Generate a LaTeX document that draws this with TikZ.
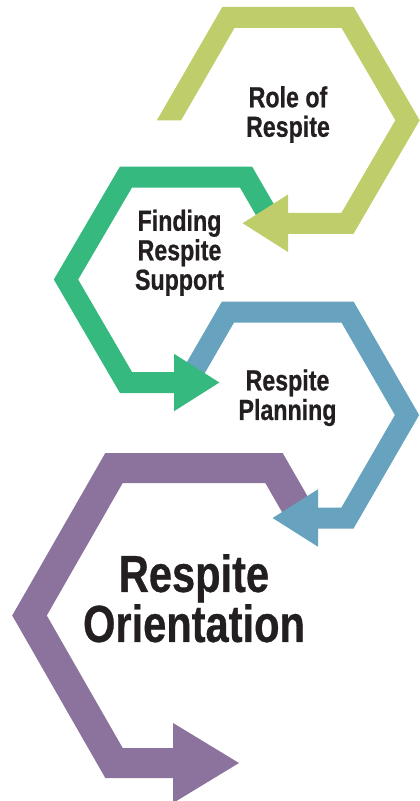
\documentclass[tikz,border=0pt]{standalone}
\usepackage{fontspec}
\setmainfont{Liberation Sans}[FakeStretch=0.8, FakeBold=0.6]
\usetikzlibrary{arrows.meta}
\definecolor{rolecol}{RGB}{191,205,106}
\definecolor{findcol}{RGB}{54,185,127}
\definecolor{plancol}{RGB}{103,163,190}
\definecolor{oriencol}{RGB}{140,115,157}
\definecolor{inkcol}{RGB}{35,31,32}
\begin{document}
\begin{tikzpicture}[
      x=1pt, y=-1pt,
      band/.style={line width=21pt, line join=miter},
      wideband/.style={line width=30pt, line join=miter},
      smallhead/.style={-{Triangle[length=46pt,width=54pt]}},
      bighead/.style={-{Triangle[length=67pt,width=75pt]}},
      steplabel/.style={align=center, text=inkcol, font=\bfseries\fontsize{29}{29.5}\selectfont},
      biglabel/.style={align=center, text=inkcol, font=\bfseries\fontsize{52}{50}\selectfont}
    ]
    \useasboundingbox (0,0) rectangle (420,801);
    % Draw the hexagon bands, lowest first.
    \draw[wideband, oriencol, bighead] (301,515) -- (274,468) -- (114,468) -- (29.5,615.5) -- (114,763) -- (240,763);
    \draw[band, plancol, smallhead] (188.7,380) -- (228,312) -- (347.5,312) -- (407,415) -- (347.5,518) -- (272,518);
    \draw[band, findcol, smallhead] (268,215) -- (246,177) -- (126,177) -- (66,279.5) -- (126,382.5) -- (220,382.5);
    % The top band ends flat at the left.
    \begin{scope}
      \clip (0,0) -- (420,0) -- (420,801) -- (200,801) -- (200,120.25) -- (0,120.25) -- cycle;
      \draw[band, rolecol, smallhead] (163.4,130) -- (228.5,17.25) -- (347.5,17.25) -- (407.5,120.25) -- (347.5,223.25) -- (242,223.25);
    \end{scope}
    % Draw the labels.
    \node[steplabel] (role) at (288,114.5) {Role of\\Respite};
    \node[steplabel] (finding) at (179.5,252.75) {Finding\\Respite\\Support};
    \node[steplabel] (planning) at (287.5,397.75) {Respite\\Planning};
    \node[biglabel] (orient) at (194,598.3) {Respite\\Orientation};
\end{tikzpicture}
\end{document}
